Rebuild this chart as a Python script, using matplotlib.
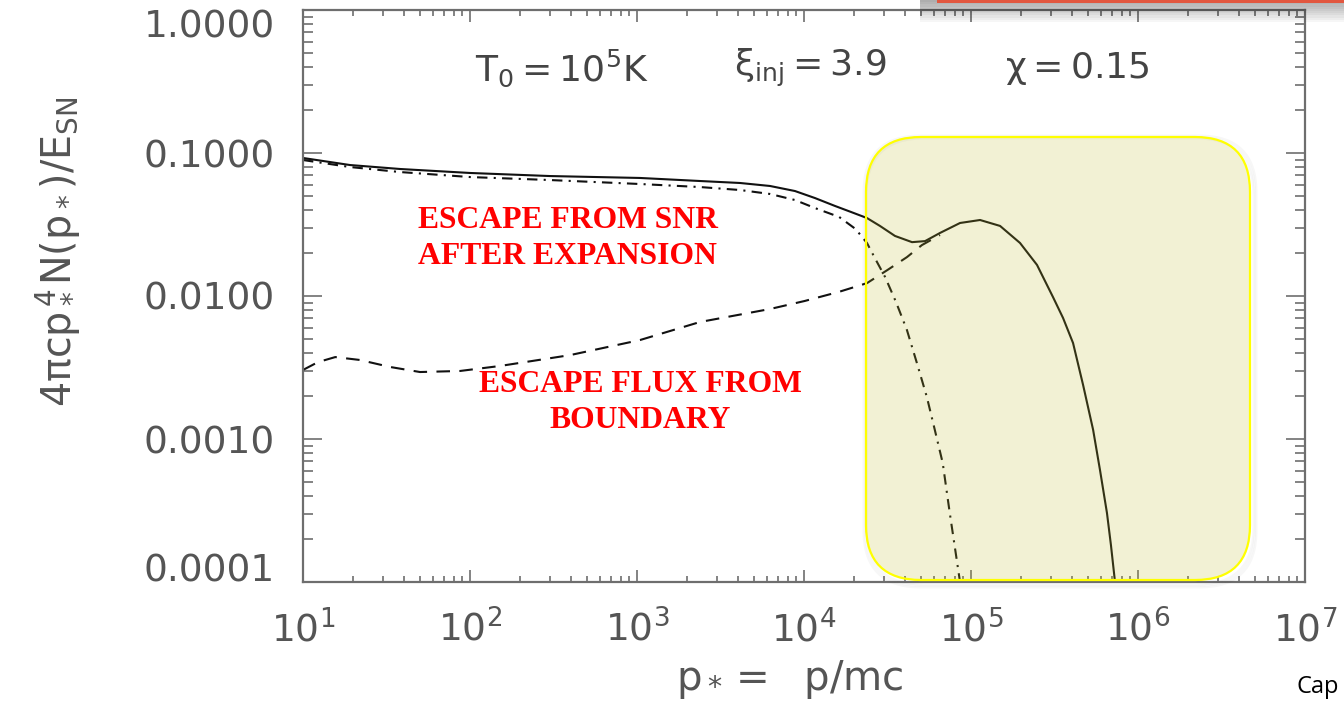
import matplotlib
matplotlib.use('Agg')
import matplotlib.pyplot as plt
import numpy as np
from matplotlib.patches import FancyBboxPatch, Rectangle
from matplotlib.ticker import LogLocator, FuncFormatter, NullFormatter

# total spectrum (solid)
p_total = [10, 19.1, 38.1, 100, 301, 1042, 2383, 4139, 6257, 8831, 11640,
           15350, 19110, 23820, 28500, 35060, 44350, 53080, 65220, 85960,
           113300, 149300, 196500, 248400, 309600, 355800, 408400, 468900,
           538500, 592100, 651800, 688700, 728300]
n_total = [0.0923, 0.0824, 0.0773, 0.0725, 0.0690, 0.0669, 0.0637, 0.0617,
           0.0588, 0.0542, 0.0484, 0.0426, 0.0387, 0.0351, 0.0309, 0.0263,
           0.0238, 0.0242, 0.0276, 0.0324, 0.0340, 0.0309, 0.0235, 0.0165,
           0.00984, 0.00702, 0.00469, 0.00239, 0.00116, 0.000607, 0.000304,
           0.000181, 0.0001]

# escape from SNR after expansion (dash-dot)
p_snr = [10, 19.1, 38.1, 100, 301, 1042, 2383, 4139, 6257, 8831, 11640,
         16240, 20370, 23820, 26580, 30570, 35550, 41340, 47420, 54380,
         60690, 67720, 74460, 85960]
n_snr = [0.0893, 0.0798, 0.0736, 0.0679, 0.0647, 0.0607, 0.0578, 0.0551,
         0.0517, 0.0469, 0.0412, 0.0357, 0.0294, 0.0235, 0.0184, 0.0136,
         0.00908, 0.00578, 0.00340, 0.00197, 0.00116, 0.000679, 0.000309,
         0.0001]

# escape flux from boundary (dashed)
p_bnd = [10, 12.3, 15.6, 21.9, 33.2, 50.2, 87.1, 151, 397, 1042, 2383, 6257,
         10100, 16240, 23820, 31600, 41340, 50800, 65220]
n_bnd = [0.00304, 0.00345, 0.00374, 0.00357, 0.00319, 0.00294, 0.00299,
         0.00324, 0.00386, 0.00492, 0.00658, 0.00811, 0.00923, 0.0107,
         0.0123, 0.0152, 0.0187, 0.0227, 0.0267]

x_ticks = [1e1, 1e2, 1e3, 1e4, 1e5, 1e6, 1e7]
y_ticks = [1e-4, 1e-3, 1e-2, 1e-1, 1e0]

params = [r'$T_0=10^5K$', r'$\xi_{inj}=3.9$', r'$\chi=0.15$']

plt.rcParams['mathtext.fontset'] = 'dejavusans'
plt.rcParams['mathtext.default'] = 'regular'

grey = '#555555'
frame = '#6e6e6e'
ink = '#111111'

fig = plt.figure(figsize=(13.44, 7.17), dpi=100)
ax = fig.add_axes([303 / 1344, 135 / 717, 1002 / 1344, 572 / 717])

ax.plot(p_total, n_total, color=ink, lw=1.5)
ax.plot(p_snr, n_snr, color=ink, lw=1.5, dashes=(5, 3, 1, 3))
ax.plot(p_bnd, n_bnd, color=ink, lw=1.5, dashes=(6.5, 4.5))

ax.set_xscale('log')
ax.set_yscale('log')
ax.set_xlim(1e1, 1e7)
ax.set_ylim(1e-4, 1)

ax.set_xticks(x_ticks)
ax.xaxis.set_minor_locator(LogLocator(base=10, subs=np.arange(2, 10), numticks=100))
ax.xaxis.set_minor_formatter(NullFormatter())
ax.set_yticks(y_ticks)
ax.yaxis.set_minor_locator(LogLocator(base=10, subs=np.arange(2, 10), numticks=100))
ax.yaxis.set_minor_formatter(NullFormatter())
ax.yaxis.set_major_formatter(FuncFormatter(lambda v, pos: f'{v:.4f}'))

for s in ax.spines.values():
    s.set_color(frame)
    s.set_linewidth(1.6)

ax.tick_params(which='both', direction='in', top=True, right=True,
               color=frame, width=1.2, labelcolor=grey, labelsize=27)
ax.tick_params(axis='y', which='major', length=14, pad=20)
ax.tick_params(axis='y', which='minor', length=7)
ax.tick_params(axis='x', which='major', length=8.5, pad=20)
ax.tick_params(axis='x', which='minor', length=4)

# keep the end labels inside the frame height
yt = ax.yaxis.get_major_ticks()
yt[0].label1.set_va('baseline')
yt[-1].label1.set_va('top')

ax.set_xlabel(r'$p_*=\ \ p/mc$', fontsize=29, color=grey)
ax.xaxis.label.set_va('center')
ax.xaxis.set_label_coords(0.486, -0.171)
ax.set_ylabel(r'$4\pi cp_*^{\,4}N(p_*)/E_{SN}$', fontsize=28.5, color=grey)
ax.yaxis.label.set_va('center')
ax.yaxis.set_label_coords(-0.245, 0.577)

for txt, xc in zip(params, [0.2585, 0.506, 0.7725]):
    ax.text(xc, 0.8986, txt, transform=ax.transAxes, ha='center', va='center',
            fontsize=26, color='#444444')

# red annotations
red_kw = dict(transform=ax.transAxes, color='#ff0000', fontsize=22.8,
              family='Liberation Serif', weight='bold', va='baseline')
ax.text((418 - 303) / 1002, (582 - 228) / 572, 'ESCAPE FROM SNR', ha='left', **red_kw)
ax.text((418 - 303) / 1002, (582 - 264) / 572, 'AFTER EXPANSION', ha='left', **red_kw)
ax.text((640 - 303) / 1002, (582 - 392) / 572, 'ESCAPE FLUX FROM', ha='center', **red_kw)
ax.text((640 - 303) / 1002, (582 - 428) / 572, 'BOUNDARY', ha='center', **red_kw)

# highlighted high-momentum region
inch = fig.dpi_scale_trans
for k in range(3):
    grow = 0.015 * (k + 1)
    sh = FancyBboxPatch((8.66 - grow + 0.02, 1.37 - grow - 0.03),
                        3.84 + 2 * grow, 4.43 + 2 * grow,
                        boxstyle='round,pad=0,rounding_size=0.57',
                        transform=inch, facecolor='none', edgecolor='#000000',
                        lw=1.5, alpha=0.03, zorder=4)
    fig.add_artist(sh)
box = FancyBboxPatch((8.66, 1.37), 3.84, 4.43,
                     boxstyle='round,pad=0,rounding_size=0.55',
                     transform=inch, facecolor=(0.745, 0.725, 0.157, 0.2),
                     edgecolor='#ffff00', lw=1.6, zorder=5)
fig.add_artist(box)

# slide element at the top right
for k in range(10):
    fig.add_artist(Rectangle((9.2, 7.17 - 0.022 * (k + 1)), 4.3, 0.022 * (k + 1),
                             transform=inch, facecolor='#000000', alpha=0.035,
                             lw=0, zorder=6))
fig.add_artist(Rectangle((9.37, 7.14), 4.1, 0.04, transform=inch,
                         facecolor='#e2573f', lw=0, zorder=7))

fig.text(1297 / 1344, (717 - 687) / 717, 'Cap', fontsize=17, family='Open Sans',
         color='black', ha='left', va='center')

fig.savefig('out.png', dpi=100)
